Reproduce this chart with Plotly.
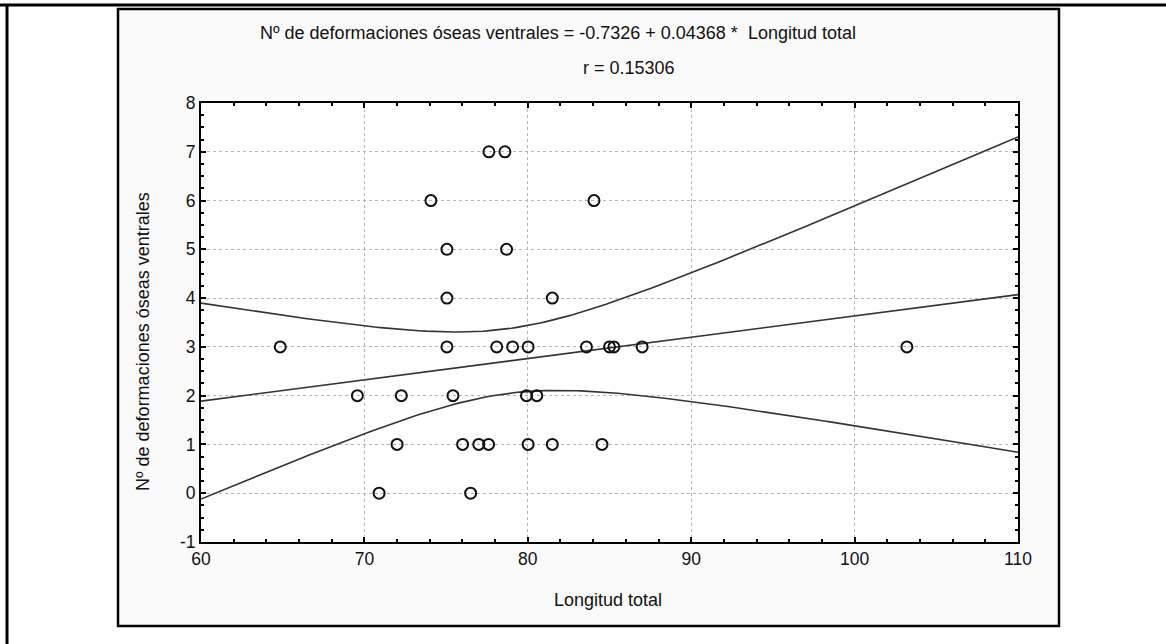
import numpy as np
import plotly.graph_objects as go

# Observed fish: total length vs. number of ventral bone deformations
longitud = [64.85, 69.57, 70.9, 72.0, 72.26, 74.07, 75.05, 75.05, 75.05, 75.42,
            76.01, 76.5, 77.0, 77.6, 77.62, 78.1, 78.6, 78.7, 79.07, 79.92,
            80.02, 80.02, 80.55, 81.5, 81.5, 83.59, 84.05, 84.54, 85.0, 85.27,
            87.0, 103.2]
deformaciones = [3, 2, 0, 1, 2, 6, 5, 4, 3, 2,
                 1, 0, 1, 1, 7, 3, 7, 5, 3, 2,
                 3, 1, 2, 4, 1, 3, 6, 1, 3, 3,
                 3, 3]

# Fitted regression reported in the header
intercepto = -0.7326
pendiente = 0.04368
r_valor = 0.15306
z_critico = 1.96  # 95 % confidence band for the mean response

x_ticks = [60, 70, 80, 90, 100, 110]
y_ticks = [-1, 0, 1, 2, 3, 4, 5, 6, 7, 8]

xa = np.array(longitud, dtype=float)
ya = np.array(deformaciones, dtype=float)
n = len(xa)
x_mean = xa.mean()
sxx = ((xa - x_mean) ** 2).sum()
resid = ya - (intercepto + pendiente * xa)
s_res = np.sqrt((resid ** 2).sum() / (n - 2))

x_line = np.linspace(60, 110, 201)
y_fit = intercepto + pendiente * x_line
half = z_critico * s_res * np.sqrt(1.0 / n + (x_line - x_mean) ** 2 / sxx)

FONT = "Liberation Sans, Arial, sans-serif"
TXT = "#111111"
LINE_COLOR = "#333333"

fig = go.Figure()
fig.add_trace(go.Scatter(x=x_line, y=y_fit + half, mode="lines",
                         line=dict(color=LINE_COLOR, width=1.6), hoverinfo="skip"))
fig.add_trace(go.Scatter(x=x_line, y=y_fit - half, mode="lines",
                         line=dict(color=LINE_COLOR, width=1.6), hoverinfo="skip"))
fig.add_trace(go.Scatter(x=x_line, y=y_fit, mode="lines",
                         line=dict(color=LINE_COLOR, width=1.6), hoverinfo="skip"))
fig.add_trace(go.Scatter(x=longitud, y=deformaciones, mode="markers",
                         marker=dict(symbol="circle-open", size=11, color="#111111",
                                     line=dict(width=2, color="#111111"))))

# Plot area in pixels: left 201, right 1018, top 103, bottom 542
L, R, T, B = 201, 1018, 103, 542
W, H = R - L, B - T


def px(x):
    return (x - L) / W


def py(y):
    return (B - y) / H


shapes = [
    # grey panel with dark frame
    dict(type="rect", xref="paper", yref="paper", layer="below",
         x0=px(118), x1=px(1059), y0=py(626), y1=py(9),
         fillcolor="#fafafa", line=dict(color="black", width=2.5)),
    # white plotting region
    dict(type="rect", xref="paper", yref="paper", layer="below",
         x0=0, x1=1, y0=0, y1=1, fillcolor="white", line=dict(width=0)),
    # page rules
    dict(type="line", xref="paper", yref="paper", x0=px(0), x1=px(1166),
         y0=py(5), y1=py(5), line=dict(color="black", width=3)),
    dict(type="line", xref="paper", yref="paper", x0=px(7), x1=px(7),
         y0=py(4), y1=py(650), line=dict(color="black", width=3)),
]

annotations = [
    dict(text="Nº de deformaciones óseas ventrales = %.4f + %.5f *  Longitud total"
              % (intercepto, pendiente),
         xref="paper", yref="paper", x=px(558), y=py(33), showarrow=False,
         font=dict(family=FONT, size=18, color=TXT), xanchor="center", yanchor="middle"),
    dict(text="r = %.5f" % r_valor,
         xref="paper", yref="paper", x=px(629), y=py(68), showarrow=False,
         font=dict(family=FONT, size=18, color=TXT), xanchor="center", yanchor="middle"),
    dict(text="Longitud total", xref="paper", yref="paper", x=px(608), y=py(600),
         showarrow=False, font=dict(family=FONT, size=18, color=TXT),
         xanchor="center", yanchor="middle"),
    dict(text="Nº de deformaciones óseas ventrales", xref="paper", yref="paper",
         x=px(143), y=py(342), textangle=-90, showarrow=False,
         font=dict(family=FONT, size=18, color=TXT),
         xanchor="center", yanchor="middle"),
]

axis_common = dict(
    showline=True, linecolor="black", linewidth=2, mirror="allticks",
    ticks="inside", ticklen=5, tickwidth=1.5, tickcolor="black",
    showgrid=True, gridcolor="#b5b5b5", gridwidth=1, griddash="3px,3px",
    zeroline=False, tickfont=dict(family=FONT, size=17.5, color=TXT),
)

fig.update_layout(
    width=1166, height=644,
    margin=dict(l=L, r=1166 - R, t=T, b=644 - B),
    paper_bgcolor="white", plot_bgcolor="white",
    showlegend=False,
    shapes=shapes, annotations=annotations,
    xaxis=dict(range=[60, 110], tickvals=x_ticks, ticktext=[str(v) for v in x_ticks],
               minor=dict(dtick=2, ticks="inside", ticklen=3, tickcolor="black",
                          showgrid=False),
               **axis_common),
    yaxis=dict(range=[-1, 8], tickvals=y_ticks, ticktext=[str(v) for v in y_ticks],
               minor=dict(dtick=0.25, ticks="inside", ticklen=3, tickcolor="black",
                          showgrid=False),
               **axis_common),
)

fig.write_html("out.html")
